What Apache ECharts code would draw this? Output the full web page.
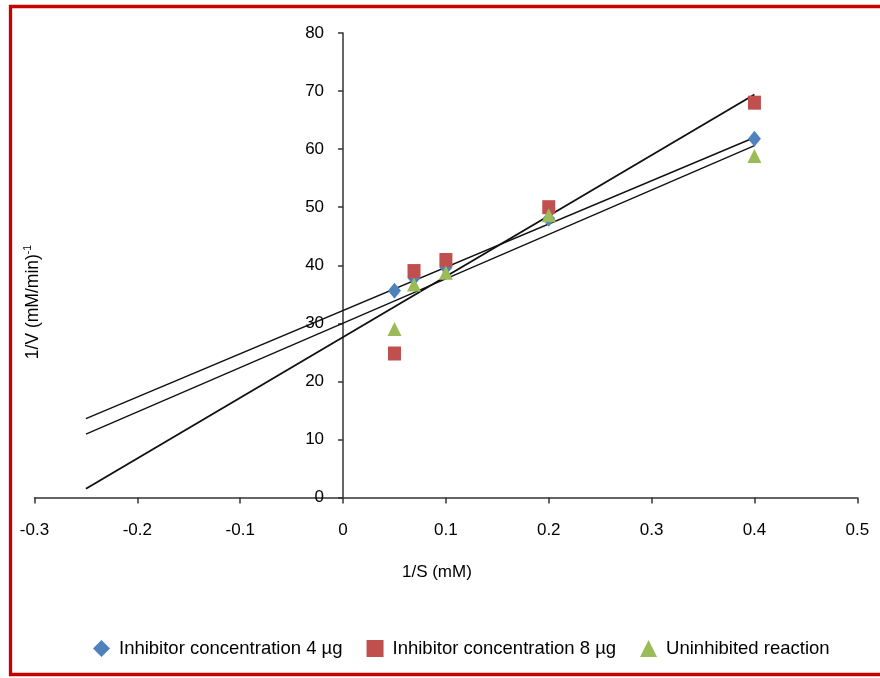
<!DOCTYPE html>
<html>
<head>
<meta charset="utf-8">
<script src="https://cdn.jsdelivr.net/npm/echarts@6/dist/echarts.min.js"></script>
<style>
html,body{margin:0;padding:0;background:#fff;}
#chart{width:880px;height:678px;}
</style>
</head>
<body>
<div id="chart"></div>
<script>
// Series names
const seriesNames = ['Inhibitor concentration 4 µg', 'Inhibitor concentration 8 µg', 'Uninhibited reaction'];
// 1/S values (mM)
const invS = [0.05, 0.069, 0.1, 0.2, 0.4];
// 1/V values per series
const inhib4 = [35.6, 37.8, 39.6, 48.0, 61.8];
const inhib8 = [24.8, 39.0, 40.9, 50.0, 68.0];
const uninhibited = [29.0, 36.7, 38.7, 48.6, 58.8];
// Trend line end points: [x, y]
const trend4 = [[-0.25, 13.6], [0.4, 62.0]];
const trend8 = [[-0.25, 1.5], [0.4, 69.4]];
const trendU = [[-0.25, 10.9], [0.4, 60.6]];
// Axis ticks
const xTicks = { min: -0.3, max: 0.5, interval: 0.1 };
const yTicks = { min: 0, max: 80, interval: 10 };

const colors = ['#4F81BD', '#C0504D', '#9BBB59'];
const symbols = ['diamond', 'rect', 'triangle'];
const symSizes = [[13, 16], [13, 14], [14, 14]];
const FONT = '"Liberation Sans", Arial, sans-serif';

const GRID_LEFT = 34.5, GRID_RIGHT = 22.7;
const plotWidth = 880 - GRID_LEFT - GRID_RIGHT;
// y axis sits at x = 0: offset it inward from the grid's left edge
const yAxisOffset = -plotWidth * (0 - xTicks.min) / (xTicks.max - xTicks.min);

function pts(ys) { return invS.map((x, i) => [x, ys[i]]); }

const chart = echarts.init(document.getElementById('chart'), null, { renderer: 'canvas' });

const scatterData = [inhib4, inhib8, uninhibited];
const trends = [trend4, trend8, trendU];
const trendWidths = [1.4, 1.9, 1.4];

const series = [];
trends.forEach((t, i) => {
  series.push({
    type: 'line', data: t, symbol: 'none', silent: true,
    lineStyle: { color: '#111', width: trendWidths[i] },
    z: 2
  });
});
scatterData.forEach((d, i) => {
  series.push({
    name: seriesNames[i], type: 'scatter', data: pts(d),
    symbol: symbols[i], symbolSize: symSizes[i],
    itemStyle: { color: colors[i], opacity: 1 },
    z: 3 + i
  });
});

chart.setOption({
  animation: false,
  grid: { left: GRID_LEFT, right: GRID_RIGHT, top: 33, bottom: 180.5, containLabel: false },
  xAxis: {
    type: 'value', min: xTicks.min, max: xTicks.max, interval: xTicks.interval,
    name: '1/S (mM)', nameLocation: 'middle', nameGap: 66,
    nameTextStyle: { fontFamily: FONT, fontSize: 17, color: '#000', verticalAlign: 'top', padding: [0, 18, 0, 0] },
    axisLine: { onZero: false, lineStyle: { color: '#333', width: 1.5 } },
    axisTick: { show: true, inside: false, length: 6, lineStyle: { color: '#333', width: 1.5 } },
    axisLabel: { fontFamily: FONT, fontSize: 17, color: '#000', margin: 24,
      formatter: v => String(Math.round(v * 10) / 10) },
    splitLine: { show: false }
  },
  yAxis: {
    type: 'value', min: yTicks.min, max: yTicks.max, interval: yTicks.interval,
    position: 'left', offset: yAxisOffset,
    axisLine: { onZero: false, lineStyle: { color: '#333', width: 1.5 } },
    axisTick: { show: true, inside: false, length: 5, lineStyle: { color: '#333', width: 1.5 } },
    axisLabel: { fontFamily: FONT, fontSize: 17, color: '#000', margin: 19 },
    splitLine: { show: false }
  },
  legend: {
    data: seriesNames.map((n, i) => ({ name: n, icon: symbols[i], itemStyle: { color: colors[i] } })),
    left: 88, top: 634, orient: 'horizontal',
    itemWidth: 17, itemHeight: 17, itemGap: 24,
    textStyle: { fontFamily: FONT, fontSize: 18.5, color: '#000', padding: [0, 0, 0, 4] }
  },
  graphic: [
    {
      type: 'rect', silent: true, z: 100,
      shape: { x: 10.5, y: 6.5, width: 900, height: 668 },
      style: { fill: 'none', stroke: '#C80000', lineWidth: 3.3 }
    },
    {
      type: 'text', silent: true, x: 33, y: 302, rotation: Math.PI / 2,
      style: {
        text: '{a|1/V (mM/min)}{b|-1}',
        align: 'center', verticalAlign: 'middle',
        rich: {
          a: { fontFamily: FONT, fontSize: 17.5, fill: '#000', lineHeight: 21 },
          b: { fontFamily: FONT, fontSize: 10.5, fill: '#000', verticalAlign: 'top', lineHeight: 12 }
        }
      }
    }
  ],
  series: series
});
</script>
</body>
</html>
